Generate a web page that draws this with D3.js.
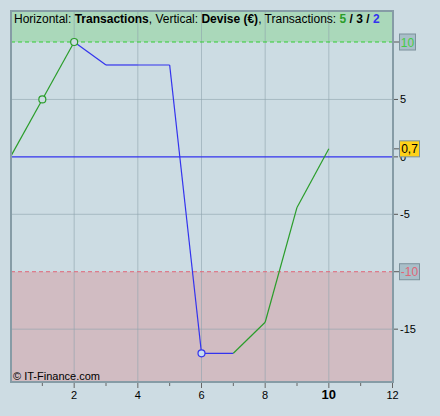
<!DOCTYPE html>
<html><head><meta charset="utf-8">
<script src="https://cdn.jsdelivr.net/npm/d3@7"></script>
<style>body{margin:0;background:#cddce3;}svg{display:block;font-family:"Liberation Sans",Arial,sans-serif;}</style>
</head><body><svg id="c" width="440" height="416"></svg>
<script>
// Data
const xs = [0,1,2,3,4,5,6,7,8,9,10];
const values = [0,5,10,8,8,8,-17.1,-17.1,-14.4,-4.4,0.7];
const markerIdx = [1,2,6];
const xTicks = [2,4,6,8,10,12];
const xMinorTicks = [1,3,5,7,9,11];
const yTicks = [5,0,-5,-15];
const upperLimit = 10, lowerLimit = -10;
const lastValueLabel = "0,7";
const counts = [{t:"5",c:"#2a9d2a"},{t:" / ",c:"#000"},{t:"3",c:"#000"},{t:" / ",c:"#000"},{t:"2",c:"#3333ee"}];

const svg = d3.select("#c");
const L=11, R=393, T=11, B=382;
const x = d3.scaleLinear().domain([0,12]).range([10.5,392.5]);
const y = d3.scaleLinear().domain([12.7,-19.6]).range([T,B]);

const green="#2a9d2a", blue="#3333ee";
// plot background
svg.append("rect").attr("x",L).attr("y",T).attr("width",R-L).attr("height",B-T).attr("fill","#ccdce3");
svg.append("rect").attr("x",L).attr("y",T).attr("width",R-L).attr("height",y(upperLimit)-T).attr("fill","#aad8ba");
svg.append("rect").attr("x",L).attr("y",y(lowerLimit)).attr("width",R-L).attr("height",B-y(lowerLimit)).attr("fill","#d1bcc2");

// grid
const g = svg.append("g");
xTicks.filter(t=>t<12).forEach(t=>{
  g.append("line").attr("x1",x(t)).attr("x2",x(t)).attr("y1",T).attr("y2",B).attr("stroke","#8ea4ad").attr("stroke-opacity",0.6);
});
yTicks.filter(t=>t!==0).forEach(t=>{
  g.append("line").attr("x1",L).attr("x2",R).attr("y1",y(t)).attr("y2",y(t)).attr("stroke","#8ea4ad").attr("stroke-opacity",0.6);
});
// zero line
svg.append("line").attr("x1",L).attr("x2",R).attr("y1",y(0)).attr("y2",y(0)).attr("stroke",blue).attr("stroke-width",1.2);
// limit dashed lines
svg.append("line").attr("x1",L).attr("x2",R).attr("y1",y(upperLimit)).attr("y2",y(upperLimit)).attr("stroke","#33cc33").attr("stroke-dasharray","4,3");
svg.append("line").attr("x1",L).attr("x2",R).attr("y1",y(lowerLimit)).attr("y2",y(lowerLimit)).attr("stroke","#e06677").attr("stroke-dasharray","4,3");

// segments
for(let i=1;i<xs.length;i++){
  const up = values[i]>values[i-1];
  svg.append("line").attr("x1",x(xs[i-1])).attr("y1",y(values[i-1])).attr("x2",x(xs[i])).attr("y2",y(values[i]))
    .attr("stroke",up?green:blue).attr("stroke-width",1.2);
}
// markers
markerIdx.forEach(i=>{
  const up = i>0 && values[i]>=values[i-1];
  svg.append("circle").attr("cx",x(xs[i])).attr("cy",y(values[i])).attr("r",3.5)
    .attr("fill",up?"#ccdce3":"#c8dcf0").attr("stroke",up?green:blue).attr("stroke-width",1.2);
});

// border
svg.append("rect").attr("x",L).attr("y",T).attr("width",R-L).attr("height",B-T).attr("fill","none").attr("stroke","#869ca6").attr("stroke-width",2);

// title
const title = svg.append("text").attr("x",14).attr("y",23).attr("font-size",12).attr("fill","#000");
title.append("tspan").text("Horizontal: ");
title.append("tspan").attr("font-weight","bold").text("Transactions");
title.append("tspan").text(", Vertical: ");
title.append("tspan").attr("font-weight","bold").text("Devise (€)");
title.append("tspan").text(", Transactions: ");
counts.forEach(c=>title.append("tspan").attr("font-weight","bold").attr("fill",c.c).text(c.t));

// copyright
svg.append("text").attr("x",13).attr("y",380).attr("font-size",11).attr("fill","#000").text("© IT-Finance.com");

// right axis
yTicks.forEach(t=>{
  svg.append("line").attr("x1",R+1).attr("x2",R+5).attr("y1",y(t)).attr("y2",y(t)).attr("stroke","#555");
  svg.append("text").attr("x",400).attr("y",y(t)+4).attr("font-size",11).attr("fill","#000").text(t);
});
function tag(v, txt, fill, color, w){
  svg.append("line").attr("x1",R+1).attr("x2",399).attr("y1",y(v)).attr("y2",y(v)).attr("stroke","#555");
  svg.append("rect").attr("x",399.5).attr("y",y(v)-8).attr("width",w).attr("height",16).attr("fill",fill).attr("stroke","#7d929c");
  svg.append("text").attr("x",399.5+w/2).attr("y",y(v)+4.5).attr("text-anchor","middle").attr("font-size",12).attr("fill",color).text(txt);
}
tag(upperLimit,"10","#a9bfc9","#44cc44",16);
tag(lowerLimit,"-10","#a9bfc9","#e06677",20);
tag(values[values.length-1],lastValueLabel,"#ffd21a","#000",20);

// bottom axis
xMinorTicks.forEach(t=>{
  svg.append("line").attr("x1",x(t)).attr("x2",x(t)).attr("y1",B+1).attr("y2",B+4).attr("stroke","#666");
});
xTicks.forEach(t=>{
  svg.append("line").attr("x1",x(t)).attr("x2",x(t)).attr("y1",B+1).attr("y2",B+6).attr("stroke","#666");
  svg.append("text").attr("x",x(t)).attr("y",399).attr("text-anchor","middle")
    .attr("font-size",t===10?13:11).attr("font-weight",t===10?"bold":"normal").attr("fill","#000").text(t);
});
</script></body></html>
